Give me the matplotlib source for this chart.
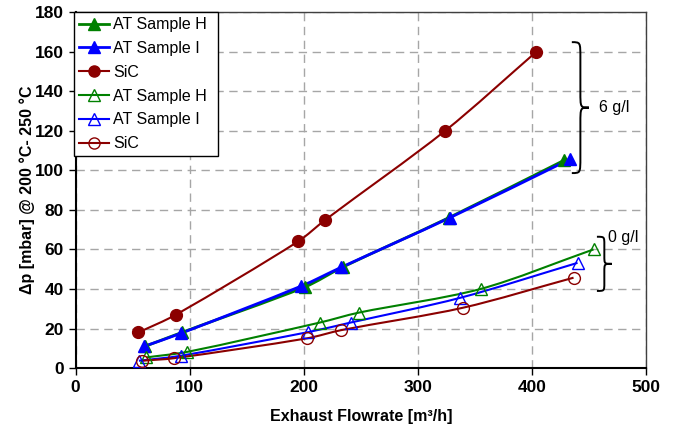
import matplotlib
matplotlib.use("Agg")
import matplotlib.pyplot as plt
import numpy as np
from matplotlib.path import Path
from matplotlib.patches import PathPatch

plt.rcParams['font.family'] = ['Liberation Sans', 'DejaVu Sans']

# pressure drop, loaded filters (6 g/l soot)
flow_h6 = [61, 93, 201, 234, 327, 428]
dp_h6 = [11, 18, 41, 51, 76, 105]
flow_i6 = [60, 92, 198, 233, 328, 433]
dp_i6 = [11, 17.5, 41.5, 51, 76, 105.5]
flow_sic6 = [55, 88, 195, 219, 324, 404]
dp_sic6 = [18, 27, 64, 75, 120, 160]

# clean filters (0 g/l)
flow_h0 = [62, 98, 214, 248, 355, 454]
dp_h0 = [5.4, 8.2, 23, 28, 40, 60]
flow_i0 = [55.5, 92, 204, 241, 337, 440]
dp_i0 = [3.7, 6.2, 18.2, 23, 35.5, 53.2]
flow_sic0 = [58, 86.5, 202.5, 233, 339.5, 436.5]
dp_sic0 = [3.7, 5, 15, 19.2, 30.5, 45.7]

GREEN = '#008000'
BLUE = '#0000FF'
RED = '#8B0000'

# rough screen scale of one data unit, so the smoothing works in "pixel" space
SX, SY = 570 / 500.0, 356 / 180.0


def smooth_path(x, y, tension=0.9):
    # bezier through the points, tangent from neighbours, handle length from segment length
    p = np.column_stack([np.asarray(x) * SX, np.asarray(y) * SY]).astype(float)
    n = len(p)
    tang = []
    for i in range(n):
        a = p[i - 1] if i > 0 else p[i]
        b = p[i + 1] if i < n - 1 else p[i]
        t = b - a
        tang.append(t / np.hypot(*t))
    verts = [p[0]]
    codes = [Path.MOVETO]
    for i in range(n - 1):
        L = np.hypot(*(p[i + 1] - p[i])) / 3.0 * tension
        c1 = p[i] + tang[i] * L
        c2 = p[i + 1] - tang[i + 1] * L
        verts += [c1, c2, p[i + 1]]
        codes += [Path.CURVE4] * 3
    verts = np.array(verts) / [SX, SY]
    return Path(verts, codes)


def series(ax, x, y, color, marker, filled, lw, label):
    ax.add_patch(PathPatch(smooth_path(x, y), fc='none', ec=color, lw=lw, zorder=3))
    mfc = color if filled else 'none'
    ax.plot(x, y, ls='none', marker=marker, ms=8.5, mfc=mfc, mec=color,
            mew=1.0, zorder=4)
    # legend proxy
    ax.plot([], [], color=color, lw=lw, marker=marker, ms=8, mfc=mfc, mec=color,
            mew=1.0, label=label)


def brace(ax, x0, x1, ybot, ytop, d):
    xm = (x0 + x1) / 2.0
    ym = (ybot + ytop) / 2.0
    verts = [(x0, ytop),
             (xm, ytop), (xm, ytop), (xm, ytop - d),
             (xm, ym + d),
             (xm, ym), (xm, ym), (x1, ym),
             (xm, ym), (xm, ym), (xm, ym - d),
             (xm, ybot + d),
             (xm, ybot), (xm, ybot), (x0, ybot)]
    codes = [Path.MOVETO] + [Path.CURVE4] * 3 + [Path.LINETO] + [Path.CURVE4] * 6 + \
            [Path.LINETO] + [Path.CURVE4] * 3
    ax.add_patch(PathPatch(Path(verts, codes), fc='none', ec='black', lw=1.4,
                           clip_on=False, zorder=5))


fig = plt.figure(figsize=(6.75, 4.32), dpi=100)
ax = fig.add_axes([0.112, 0.148, 0.845, 0.824])

series(ax, flow_h6, dp_h6, GREEN, '^', True, 2.0, 'AT Sample H')
series(ax, flow_i6, dp_i6, BLUE, '^', True, 2.0, 'AT Sample I')
series(ax, flow_sic6, dp_sic6, RED, 'o', True, 1.5, 'SiC')
series(ax, flow_h0, dp_h0, GREEN, '^', False, 1.5, 'AT Sample H')
series(ax, flow_i0, dp_i0, BLUE, '^', False, 1.5, 'AT Sample I')
series(ax, flow_sic0, dp_sic0, RED, 'o', False, 1.5, 'SiC')

ax.set_xlim(0, 500)
ax.set_ylim(0, 180)
ax.set_xticks(np.arange(0, 501, 100))
ax.set_yticks(np.arange(0, 181, 20))
ax.grid(True, color='#A6A6A6', ls=(0, (6, 4)), lw=1.0)
ax.set_axisbelow(True)

for s in ['left', 'bottom']:
    ax.spines[s].set_linewidth(1.5)
    ax.spines[s].set_color('black')
for s in ['top', 'right']:
    ax.spines[s].set_linewidth(1.0)
    ax.spines[s].set_color('#404040')
ax.tick_params(direction='out', length=5, width=1.0, top=False, right=False, labelsize=12.5)
for t in ax.get_xticklabels() + ax.get_yticklabels():
    t.set_fontweight('bold')

ax.set_xlabel('Exhaust Flowrate [m³/h]', fontsize=11.5, fontweight='bold', labelpad=10)
ax.set_ylabel('Δp [mbar] @ 200 °C- 250 °C', fontsize=11.5, fontweight='bold', labelpad=0)

brace(ax, 435, 450, 98.6, 164.8, 8)
ax.text(459, 132, '6 g/l', fontsize=11.5, va='center', ha='left')
brace(ax, 457, 470, 39, 66.4, 4)
ax.text(467, 66, '0 g/l', fontsize=11.5, va='center', ha='left')

leg = ax.legend(loc='upper left', bbox_to_anchor=(-0.003, 0.0, 0.253, 1.0), mode='expand',
                borderaxespad=0, fontsize=11.5, frameon=True, fancybox=False,
                edgecolor='black', framealpha=1, handlelength=1.9, handletextpad=0.25,
                labelspacing=0.55, borderpad=0.32)
leg.get_frame().set_linewidth(1.0)

fig.savefig('out.png', dpi=100)
